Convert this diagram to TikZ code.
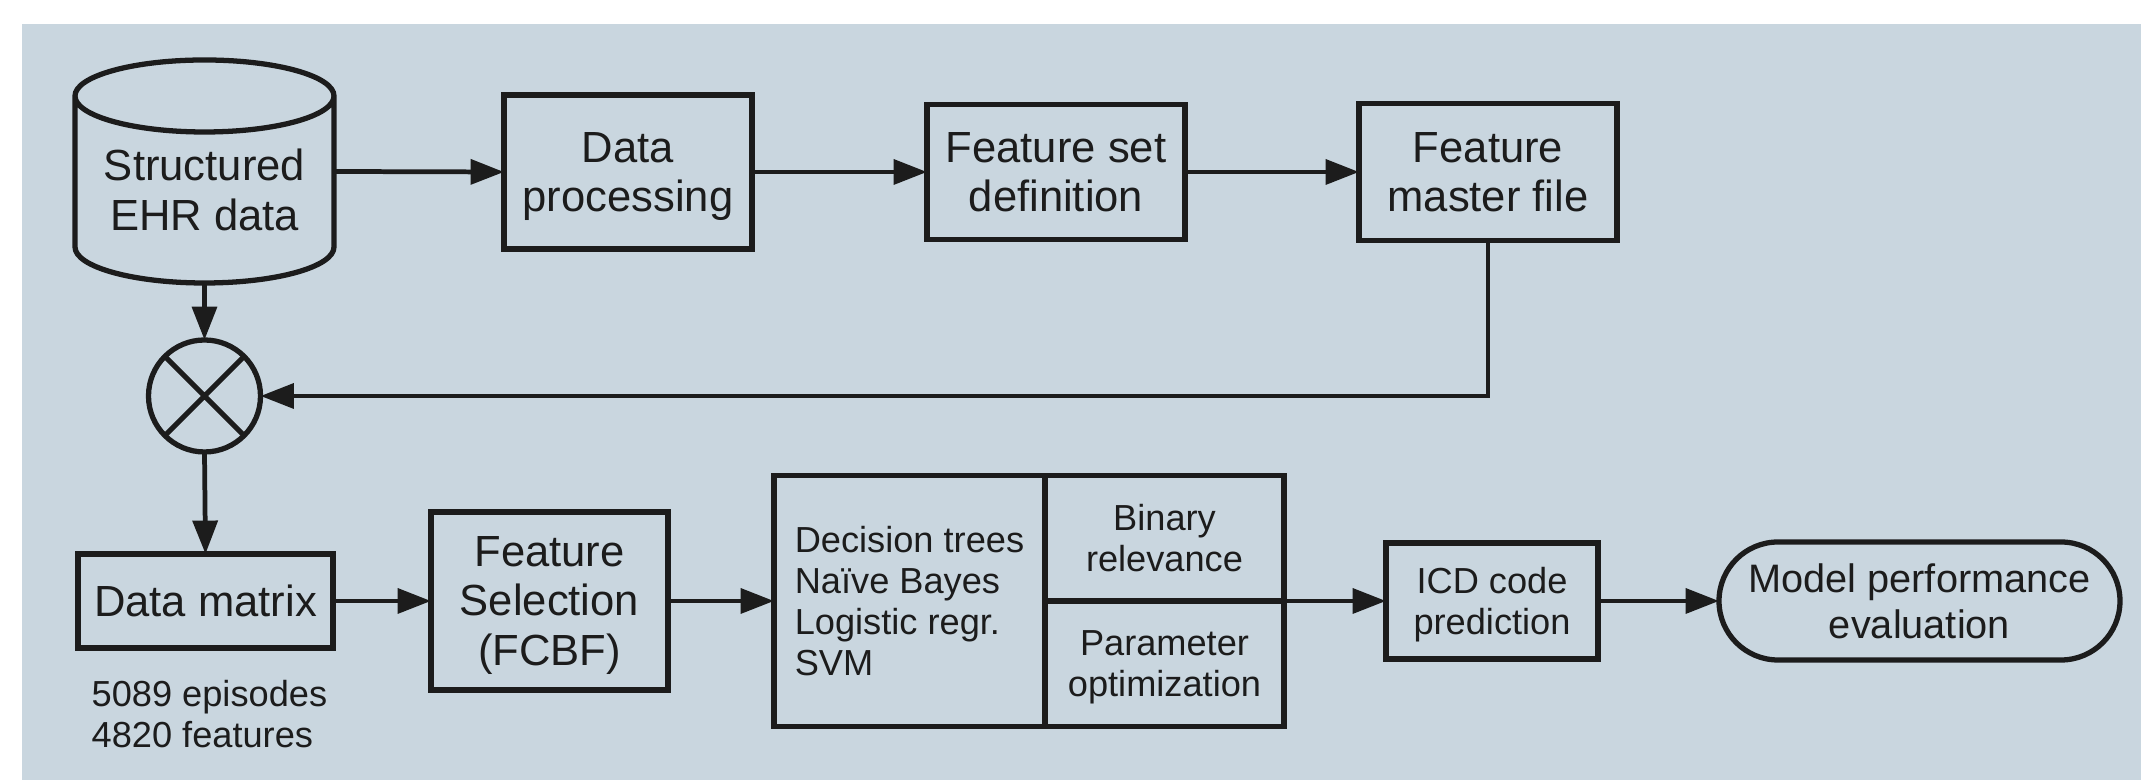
\documentclass[tikz,border=0pt]{standalone}
\usepackage{fontspec}
\setmainfont{Liberation Sans}
\usetikzlibrary{arrows.meta,shapes.misc}
\definecolor{panel}{HTML}{C9D6DF}
\definecolor{ink}{HTML}{1C1C1C}
\newcommand{\bigtxt}{\fontsize{12.4}{14.2}\selectfont}
\newcommand{\smalltxt}{\fontsize{10.3}{11.7}\selectfont}

\begin{document}
\begin{tikzpicture}[
  box/.style={draw=ink, line width=1.5pt, text=ink, align=center, text depth=0pt, inner sep=0pt, outer sep=0pt, font=\bigtxt},
  arr/.style={draw=ink, line width=1.35pt, -{Triangle[length=9.5pt,width=7pt]}},
]
\useasboundingbox (0,0) rectangle (21.41,7.80);
\fill[panel] (0.22,0) rectangle (21.41,7.56);

% upper row
\node[box, draw=none, minimum width=2.59cm, minimum height=2.23cm] (ehr) at (2.045,6.085) {};
\draw[ink, line width=1.5pt] ([yshift=-3.6mm]ehr.north west) -- ([yshift=3.6mm]ehr.south west)
  arc[start angle=180, end angle=360, x radius=12.95mm, y radius=3.6mm] -- ([yshift=-3.6mm]ehr.north east)
  arc[start angle=0, end angle=360, x radius=12.95mm, y radius=3.6mm];
\node[text=ink, align=center, font=\bigtxt] (ehrtext) at ([yshift=-1.8mm]ehr.center) {Structured\\EHR data};
\node[box, minimum width=2.48cm, minimum height=1.54cm] (proc) at (6.28,6.08) {Data\\processing};
\node[box, minimum width=2.58cm, minimum height=1.35cm] (fset) at (10.56,6.08) {Feature set\\definition};
\node[box, minimum width=2.58cm, minimum height=1.37cm] (fmf) at (14.88,6.08) {Feature\\master file};

% join
\node[draw=ink, line width=1.5pt, circle, minimum size=1.12cm, inner sep=0pt, outer sep=0pt] (mix) at (2.045,3.84) {};
\draw[ink, line width=1.5pt] (mix.north west) -- (mix.south east) (mix.north east) -- (mix.south west);

% lower row
\node[box, minimum width=2.55cm, minimum height=0.94cm] (dm) at (2.055,1.79) {Data matrix};
\node[text=ink, font=\smalltxt, align=left, anchor=west, inner sep=0pt] (stats) at (0.91,0.66) {5089 episodes\\4820 features};
\node[box, minimum width=2.37cm, minimum height=1.78cm] (fs) at (5.495,1.79) {Feature\\Selection\\(FCBF)};
\node[box, font=\smalltxt, align=left, minimum width=2.71cm, minimum height=2.51cm] (algo) at (9.095,1.79) {Decision trees\\Naïve Bayes\\Logistic regr.\\SVM};
\node[box, font=\smalltxt, minimum width=2.39cm, minimum height=1.255cm, anchor=south west] (br) at (algo.east) {Binary\\relevance};
\node[box, font=\smalltxt, minimum width=2.39cm, minimum height=1.255cm, anchor=north west] (po) at (algo.east) {Parameter\\optimization};
\node[box, font=\smalltxt, minimum width=2.12cm, minimum height=1.16cm] (icd) at (14.92,1.79) {ICD code\\prediction};
\node[box, rounded rectangle, font=\fontsize{11.3}{12.9}\selectfont, minimum width=4.01cm, minimum height=1.18cm] (mpe) at (19.195,1.79) {Model performance\\evaluation};

% connectors
\draw[arr] (ehr.east) -- (proc.west);
\draw[arr] (proc.east) -- (fset.west);
\draw[arr] (fset.east) -- (fmf.west);
\draw[arr] (ehr.south) -- (mix.north);
\draw[arr] (fmf.south) |- (mix.east);
\draw[arr] (mix.south) -- (dm.north);
\draw[arr] (dm.east) -- (fs.west);
\draw[arr] (fs.east) -- (algo.west);
\draw[arr] (br.south east) -- (icd.west);
\draw[arr] (icd.east) -- (mpe.west);

\end{tikzpicture}
\end{document}
